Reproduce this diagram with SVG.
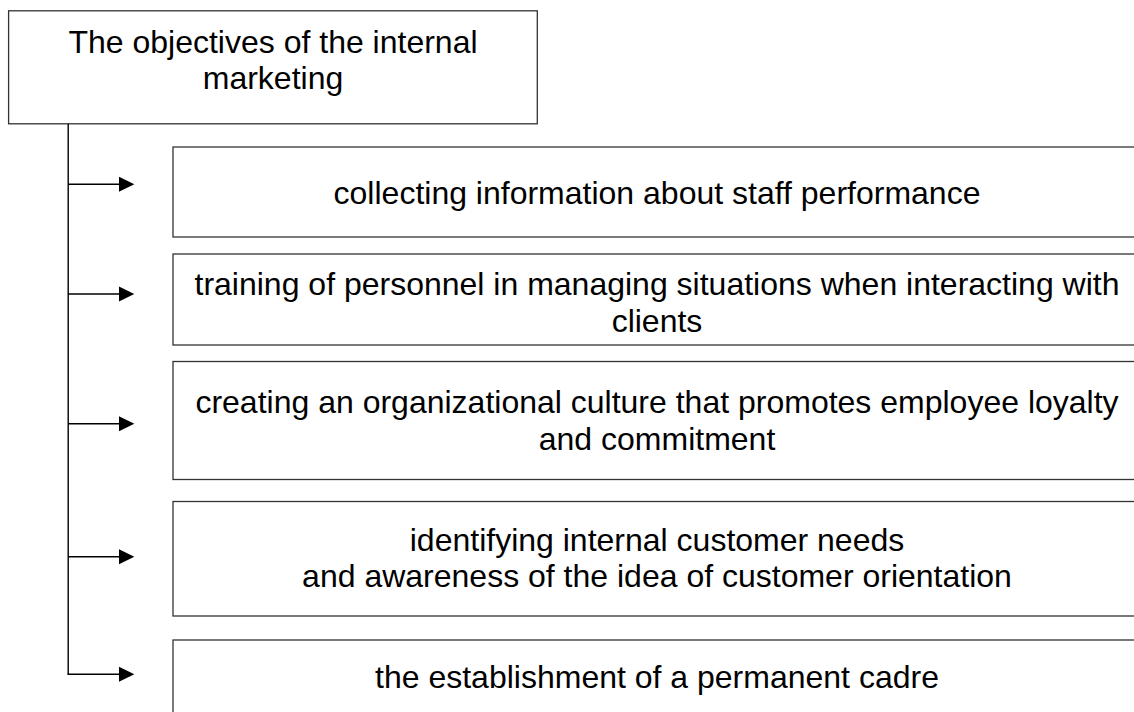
<svg xmlns="http://www.w3.org/2000/svg" width="1134" height="712" viewBox="0 0 1134 712">
  <style>
    .box { fill: #ffffff; stroke: #333333; stroke-width: 1.3; }
    .lbl { font-family: "Liberation Sans", Arial, sans-serif; font-size: 32px; fill: #000000; text-anchor: middle; }
    .conn { fill: none; stroke: #000000; stroke-width: 1.4; }
    .head { fill: #000000; stroke: none; }
  </style>
  <rect width="1134" height="712" fill="#ffffff"/>
  <g id="root">
    <rect class="box" x="8.6" y="10.8" width="528.7" height="113"/>
    <text class="lbl" x="273" y="53">The objectives of the internal</text>
    <text class="lbl" x="273" y="89">marketing</text>
  </g>
  <g id="obj1">
    <rect class="box" x="173" y="147" width="970" height="90"/>
    <text class="lbl" x="657" y="204">collecting information about staff performance</text>
  </g>
  <g id="obj2">
    <rect class="box" x="173" y="254" width="970" height="91"/>
    <text class="lbl" x="657" y="295">training of personnel in managing situations when interacting with</text>
    <text class="lbl" x="657" y="332">clients</text>
  </g>
  <g id="obj3">
    <rect class="box" x="173" y="361.5" width="970" height="118"/>
    <text class="lbl" x="657" y="413">creating an organizational culture that promotes employee loyalty</text>
    <text class="lbl" x="657" y="450">and commitment</text>
  </g>
  <g id="obj4">
    <rect class="box" x="173" y="501.5" width="970" height="114.5"/>
    <text class="lbl" x="657" y="551">identifying internal customer needs</text>
    <text class="lbl" x="657" y="587">and awareness of the idea of customer orientation</text>
  </g>
  <g id="obj5">
    <rect class="box" x="173" y="640" width="970" height="76"/>
    <text class="lbl" x="657" y="688">the establishment of a permanent cadre</text>
  </g>
  <g id="connectors">
    <path class="conn" d="M68.2 123.8 V674.3"/>
    <path class="conn" d="M68.2 184.3 H120"/>
    <polygon class="head" points="119,176.8 134.3,184.3 119,191.8"/>
    <path class="conn" d="M68.2 294 H120"/>
    <polygon class="head" points="119,286.5 134.3,294 119,301.5"/>
    <path class="conn" d="M68.2 423.7 H120"/>
    <polygon class="head" points="119,416.2 134.3,423.7 119,431.2"/>
    <path class="conn" d="M68.2 556.7 H120"/>
    <polygon class="head" points="119,549.2 134.3,556.7 119,564.2"/>
    <path class="conn" d="M67.5 674.3 H120"/>
    <polygon class="head" points="119,666.8 134.3,674.3 119,681.8"/>
  </g>
</svg>
